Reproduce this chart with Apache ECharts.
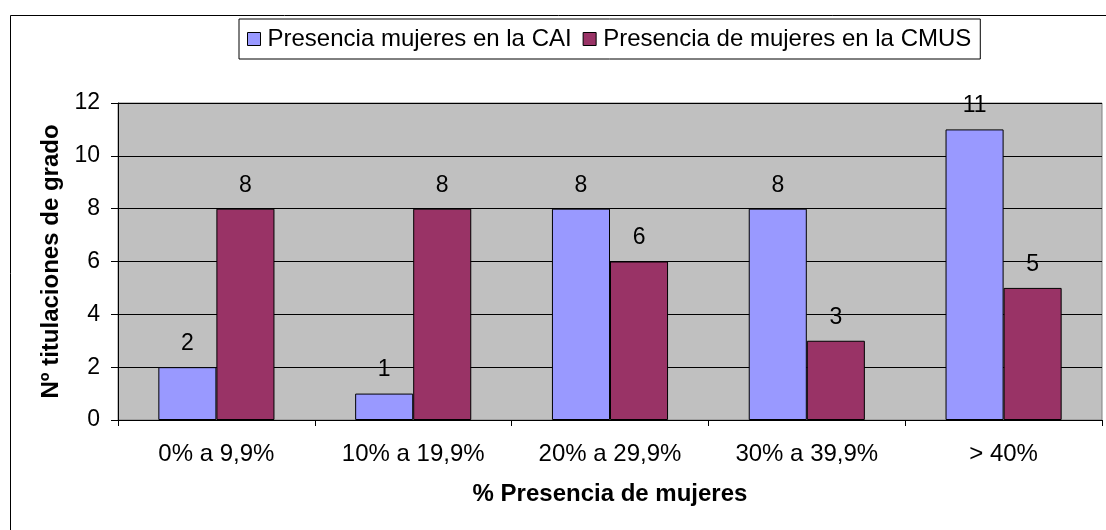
<!DOCTYPE html>
<html>
<head>
<meta charset="utf-8">
<script src="https://cdn.jsdelivr.net/npm/echarts@6/dist/echarts.min.js"></script>
<style>html,body{margin:0;padding:0;background:#fff}#c{width:1106px;height:530px}</style>
</head>
<body>
<div id="c"></div>
<script>
const categories = ['0% a 9,9%', '10% a 19,9%', '20% a 29,9%', '30% a 39,9%', '> 40%'];
const seriesNames = ['Presencia mujeres en la CAI', 'Presencia de mujeres en la CMUS'];
const caiValues = [2, 1, 8, 8, 11];
const cmusValues = [8, 8, 6, 3, 5];
const yTicks = [0, 2, 4, 6, 8, 10, 12];

const FONT = 'Arial, "Liberation Sans", sans-serif';
const chart = echarts.init(document.getElementById('c'), null, {renderer: 'canvas'});
const labelStyle = {show: true, position: 'top', distance: 12, color: '#000', fontSize: 23, fontFamily: FONT};
chart.setOption({
  animation: false,
  graphic: [{
    type: 'rect', left: 8, top: 13, z: -10,
    shape: {width: 1110, height: 540},
    style: {fill: 'none', stroke: '#000', lineWidth: 1}
  }],
  legend: {
    left: 239, top: 19,
    padding: [8, 9, 8, 8],
    icon: 'rect',
    itemWidth: 13, itemHeight: 13, itemGap: 11,
    backgroundColor: '#fff', borderColor: '#000', borderWidth: 1,
    textStyle: {fontSize: 24, fontFamily: FONT, color: '#000', padding: [0, 0, 0, 2]},
    itemStyle: {borderColor: '#000', borderWidth: 1},
    data: seriesNames
  },
  grid: {
    left: 118, right: 4, top: 103, bottom: 110,
    show: true, backgroundColor: '#C0C0C0', borderColor: '#808080', borderWidth: 1
  },
  xAxis: {
    type: 'category', data: categories,
    name: '% Presencia de mujeres', nameLocation: 'middle', nameGap: 62,
    nameTextStyle: {fontSize: 24, fontWeight: 'bold', fontFamily: FONT, color: '#000'},
    axisLine: {lineStyle: {color: '#000', width: 1}},
    axisTick: {show: true, length: 6, lineStyle: {color: '#000'}},
    axisLabel: {fontSize: 24, fontFamily: FONT, color: '#000', margin: 22},
    splitLine: {show: false}
  },
  yAxis: {
    type: 'value', min: 0, max: 12, interval: 2,
    name: 'Nº titulaciones de grado', nameLocation: 'middle', nameGap: 55,
    nameTextStyle: {fontSize: 24, fontWeight: 'bold', fontFamily: FONT, color: '#000'},
    axisLine: {show: true, lineStyle: {color: '#000', width: 1}},
    axisTick: {show: true, length: 7, lineStyle: {color: '#000'}},
    axisLabel: {fontSize: 23, fontFamily: FONT, color: '#000', margin: 18,
      formatter: v => yTicks.includes(v) ? String(v) : ''},
    splitLine: {show: true, lineStyle: {color: '#000', width: 1}}
  },
  series: [
    {name: seriesNames[0], type: 'bar', data: caiValues, barGap: '0%', barCategoryGap: '41%',
     itemStyle: {color: '#9999FF', borderColor: '#000', borderWidth: 1}, label: labelStyle},
    {name: seriesNames[1], type: 'bar', data: cmusValues, barGap: '0%', barCategoryGap: '41%',
     itemStyle: {color: '#993366', borderColor: '#000', borderWidth: 1}, label: labelStyle}
  ]
});
</script>
</body>
</html>
